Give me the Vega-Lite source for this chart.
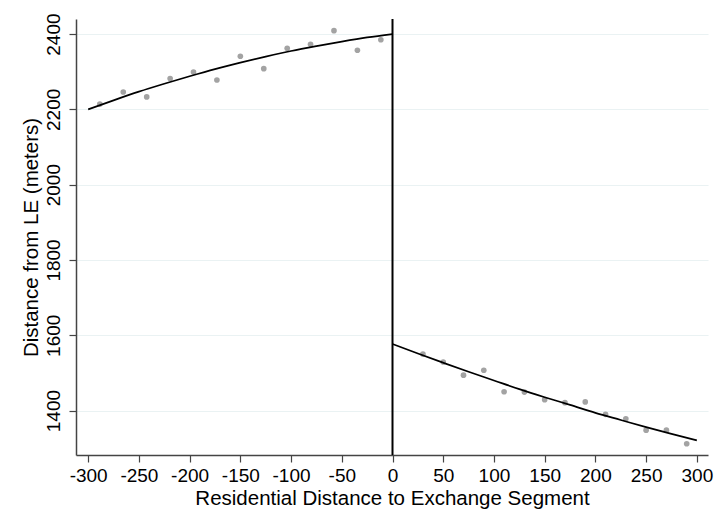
{
  "$schema": "https://vega.github.io/schema/vega-lite/v6.json",
  "width": 632,
  "height": 436,
  "autosize": {"type": "none"},
  "padding": {"left": 76, "top": 19, "right": 18, "bottom": 69},
  "background": "white",
  "config": {
    "view": {"stroke": null},
    "font": "Liberation Sans",
    "axis": {"labelFont": "Liberation Sans", "titleFont": "Liberation Sans", "titleFontWeight": "normal", "labelColor": "black", "titleColor": "black"}
  },
  "datasets": {
    "bins": [
      {"x": -288.5, "y": 2214}, {"x": -265.4, "y": 2246}, {"x": -242.3, "y": 2233},
      {"x": -219.2, "y": 2282}, {"x": -196.2, "y": 2299}, {"x": -173.1, "y": 2278},
      {"x": -150.0, "y": 2341}, {"x": -126.9, "y": 2308}, {"x": -103.8, "y": 2362},
      {"x": -80.8, "y": 2373}, {"x": -57.7, "y": 2409}, {"x": -34.6, "y": 2357},
      {"x": -11.5, "y": 2385},
      {"x": 30, "y": 1550}, {"x": 50, "y": 1529}, {"x": 70, "y": 1494},
      {"x": 90, "y": 1507}, {"x": 110, "y": 1450}, {"x": 130, "y": 1449},
      {"x": 150, "y": 1429}, {"x": 170, "y": 1421}, {"x": 190, "y": 1423},
      {"x": 210, "y": 1390}, {"x": 230, "y": 1378}, {"x": 250, "y": 1348},
      {"x": 270, "y": 1348}, {"x": 290, "y": 1312}
    ],
    "fit": [
      {"side": "left", "x": -300, "y": 2200}, {"side": "left", "x": -275, "y": 2224},
      {"side": "left", "x": -250, "y": 2247}, {"side": "left", "x": -225, "y": 2268},
      {"side": "left", "x": -200, "y": 2288}, {"side": "left", "x": -175, "y": 2307},
      {"side": "left", "x": -150, "y": 2324}, {"side": "left", "x": -125, "y": 2340},
      {"side": "left", "x": -100, "y": 2355}, {"side": "left", "x": -75, "y": 2368},
      {"side": "left", "x": -50, "y": 2380}, {"side": "left", "x": -25, "y": 2391},
      {"side": "left", "x": 0, "y": 2400},
      {"side": "right", "x": 0, "y": 1577}, {"side": "right", "x": 25, "y": 1551.5},
      {"side": "right", "x": 50, "y": 1527}, {"side": "right", "x": 75, "y": 1503},
      {"side": "right", "x": 100, "y": 1480}, {"side": "right", "x": 125, "y": 1457},
      {"side": "right", "x": 150, "y": 1435.5}, {"side": "right", "x": 175, "y": 1415},
      {"side": "right", "x": 200, "y": 1394}, {"side": "right", "x": 225, "y": 1375},
      {"side": "right", "x": 250, "y": 1356}, {"side": "right", "x": 275, "y": 1338},
      {"side": "right", "x": 300, "y": 1321}
    ],
    "cut": [{"x": 0}]
  },
  "layer": [
    {
      "data": {"name": "bins"},
      "mark": {"type": "circle", "color": "#a3a3a3", "opacity": 1, "size": 32},
      "encoding": {
        "x": {
          "field": "x", "type": "quantitative",
          "scale": {"domain": [-312, 311], "nice": false, "zero": false},
          "axis": {
            "title": "Residential Distance to Exchange Segment",
            "titleFontSize": 20.5, "titlePadding": 3,
            "values": [-300, -275, -250, -225, -200, -175, -150, -125, -100, -75, -50, -25, 0, 25, 50, 75, 100, 125, 150, 175, 200, 225, 250, 275, 300],
            "labelExpr": "datum.value % 50 === 0 ? '' + datum.value : ''",
            "labelFontSize": 19, "labelPadding": 4, "labelFlush": false,
            "tickSize": 7, "tickColor": "#444", "tickWidth": 1.2,
            "domainColor": "#444", "domainWidth": 1.5,
            "grid": false
          }
        },
        "y": {
          "field": "y", "type": "quantitative",
          "scale": {"domain": [1282, 2440], "nice": false, "zero": false},
          "axis": {
            "title": "Distance from LE (meters)",
            "titleFontSize": 20.5, "titlePadding": 3,
            "values": [1400, 1600, 1800, 2000, 2200, 2400],
            "labelExpr": "'' + datum.value",
            "labelFontSize": 19, "labelAngle": -90, "labelAlign": "center", "labelBaseline": "bottom",
            "labelPadding": 6, "labelFlush": false,
            "tickSize": 7, "tickColor": "#444", "tickWidth": 1.2,
            "domainColor": "#444", "domainWidth": 1.5,
            "grid": true, "gridColor": "#eaf2f3", "gridWidth": 1.2
          }
        }
      }
    },
    {
      "data": {"name": "fit"},
      "mark": {"type": "line", "color": "black", "strokeWidth": 1.7, "interpolate": "monotone"},
      "encoding": {
        "x": {"field": "x", "type": "quantitative"},
        "y": {"field": "y", "type": "quantitative"},
        "detail": {"field": "side"}
      }
    },
    {
      "data": {"name": "cut"},
      "mark": {"type": "rule", "color": "black", "strokeWidth": 2},
      "encoding": {
        "x": {"field": "x", "type": "quantitative"}
      }
    }
  ]
}
